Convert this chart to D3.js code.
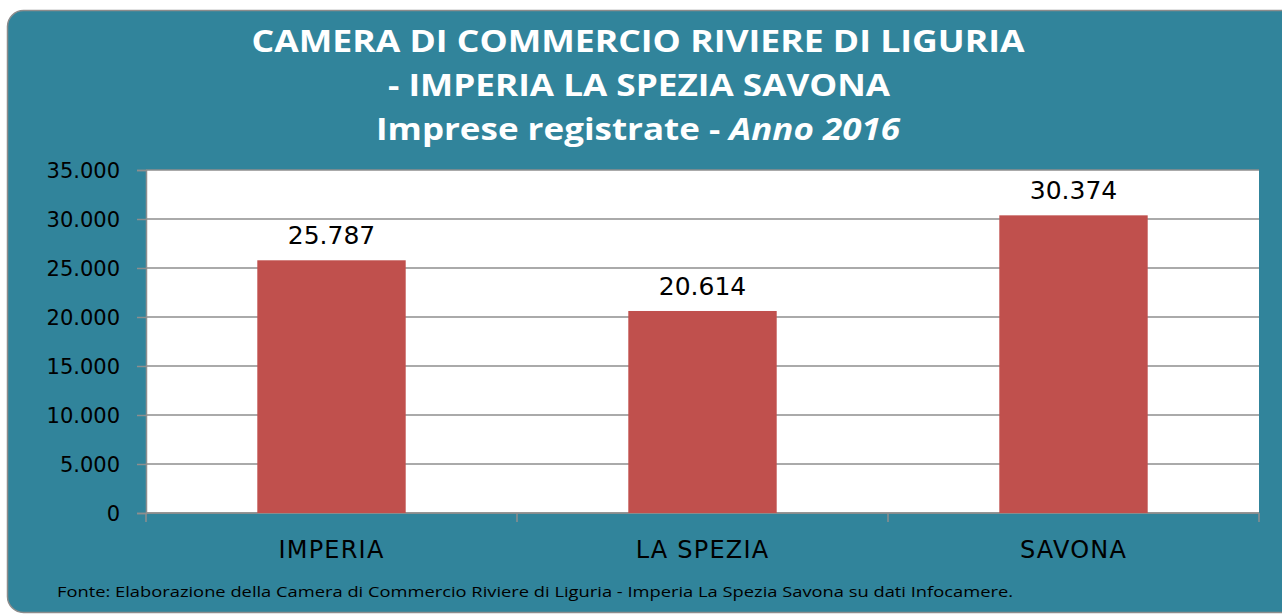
<!DOCTYPE html>
<html>
<head>
<meta charset="utf-8">
<script src="https://cdn.jsdelivr.net/npm/d3@7"></script>
<style>
  body { margin: 0; background: #fff; }
  svg { display: block; }
</style>
</head>
<body>
<div id="chart"></div>
<script>
// data
var categories = ["IMPERIA", "LA SPEZIA", "SAVONA"];
var values = [25787, 20614, 30374];
var yTicks = [0, 5000, 10000, 15000, 20000, 25000, 30000, 35000];
var titleLines = ["CAMERA DI COMMERCIO RIVIERE DI LIGURIA", "- IMPERIA LA SPEZIA SAVONA"];
var footer = "Fonte: Elaborazione  della Camera di Commercio Riviere di Liguria - Imperia La Spezia Savona su dati Infocamere.";

var width = 1282, height = 614;
var margin = { top: 170, right: 23, bottom: 101, left: 146 };

var svg = d3.select("#chart").append("svg")
  .attr("width", width)
  .attr("height", height);

// card background
svg.append("rect")
  .attr("x", 7.5).attr("y", 10.5)
  .attr("width", 1300).attr("height", 602)
  .attr("rx", 16)
  .attr("fill", "#31849b")
  .attr("stroke", "#8c8c8c")
  .attr("stroke-width", 1.5);

var x = d3.scaleBand()
  .domain(categories)
  .range([margin.left, width - margin.right])
  .paddingInner(0.6)
  .paddingOuter(0.3);

var y = d3.scaleLinear()
  .domain([0, 35000])
  .range([height - margin.bottom, margin.top]);

var fmt = d3.formatLocale({ decimal: ",", thousands: ".", grouping: [3], currency: ["", ""] }).format(",d");

// plot area
svg.append("rect")
  .attr("x", margin.left).attr("y", margin.top)
  .attr("width", width - margin.right - margin.left)
  .attr("height", y(0) - margin.top)
  .attr("fill", "#fff");

// gridlines
svg.append("g")
  .selectAll("line")
  .data(yTicks)
  .join("line")
  .attr("x1", margin.left).attr("x2", width - margin.right)
  .attr("y1", d => y(d)).attr("y2", d => y(d))
  .attr("stroke", "#8e8e8e")
  .attr("stroke-width", 1.5);

// y axis
var yAxis = svg.append("g")
  .attr("transform", `translate(${margin.left},0)`)
  .call(d3.axisLeft(y).tickValues(yTicks).tickFormat(fmt).tickSize(9).tickPadding(17));
yAxis.select(".domain").attr("stroke", "#8e8e8e").attr("stroke-width", 1.5);
yAxis.selectAll(".tick line").attr("stroke", "#8e8e8e").attr("stroke-width", 1.5);
yAxis.selectAll(".tick text")
  .attr("fill", "#000")
  .attr("font-family", "DejaVu Sans")
  .attr("font-size", 21)
  .attr("dy", "0.36em");

// x axis: ticks at band boundaries
var step = x.step();
var bounds = d3.range(categories.length + 1).map(i => margin.left + i * (width - margin.right - margin.left) / categories.length);
svg.append("line")
  .attr("x1", margin.left).attr("x2", width - margin.right)
  .attr("y1", y(0)).attr("y2", y(0))
  .attr("stroke", "#8e8e8e").attr("stroke-width", 1.5);
svg.append("g")
  .selectAll("line")
  .data(bounds)
  .join("line")
  .attr("x1", d => d).attr("x2", d => d)
  .attr("y1", y(0)).attr("y2", y(0) + 9)
  .attr("stroke", "#8e8e8e").attr("stroke-width", 1.5);

svg.append("g")
  .selectAll("text")
  .data(categories)
  .join("text")
  .attr("x", d => x(d) + x.bandwidth() / 2)
  .attr("y", 558)
  .attr("text-anchor", "middle")
  .attr("font-family", "DejaVu Sans")
  .attr("font-size", 24)
  .attr("letter-spacing", 1.2)
  .attr("fill", "#000")
  .text(d => d);

// bars
svg.append("g")
  .selectAll("rect")
  .data(values)
  .join("rect")
  .attr("x", (d, i) => x(categories[i]))
  .attr("y", d => y(d))
  .attr("width", x.bandwidth())
  .attr("height", d => y(0) - y(d))
  .attr("fill", "#c0504d");

// value labels
svg.append("g")
  .selectAll("text")
  .data(values)
  .join("text")
  .attr("x", (d, i) => x(categories[i]) + x.bandwidth() / 2)
  .attr("y", d => y(d) - 16)
  .attr("text-anchor", "middle")
  .attr("font-family", "DejaVu Sans")
  .attr("font-size", 25)
  .attr("fill", "#000")
  .text(d => fmt(d));

// title
var title = svg.append("g")
  .attr("fill", "#fff")
  .attr("font-family", "Open Sans")
  .attr("font-weight", "bold")
  .attr("font-size", 31)
  .attr("text-anchor", "middle");
title.append("text").attr("x", 638).attr("y", 52)
  .attr("textLength", 773).attr("lengthAdjust", "spacingAndGlyphs")
  .text(titleLines[0]);
title.append("text").attr("x", 639).attr("y", 96)
  .attr("textLength", 502).attr("lengthAdjust", "spacingAndGlyphs")
  .text(titleLines[1]);
var t3 = title.append("text").attr("x", 638).attr("y", 140)
  .attr("textLength", 524).attr("lengthAdjust", "spacingAndGlyphs");
t3.append("tspan").text("Imprese registrate - ");
t3.append("tspan").attr("font-style", "italic").text("Anno 2016");

// footer
svg.append("text")
  .attr("x", 57).attr("y", 597)
  .attr("font-family", "Open Sans")
  .attr("font-size", 14)
  .attr("fill", "#000")
  .attr("textLength", 956).attr("lengthAdjust", "spacingAndGlyphs")
  .text(footer);
</script>
</body>
</html>
